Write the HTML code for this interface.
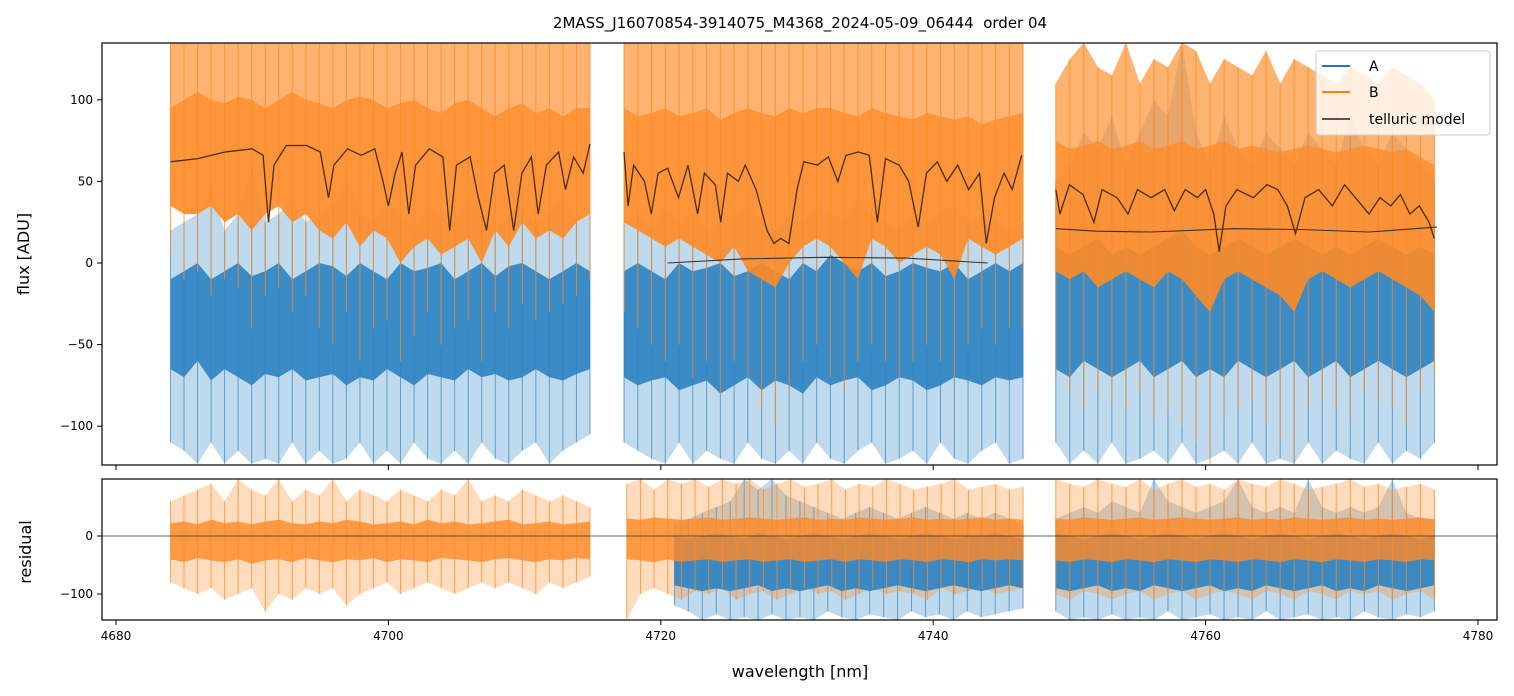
<!DOCTYPE html>
<html><head><meta charset="utf-8"><style>
html,body{margin:0;padding:0;background:#fff;}
svg{display:block;font-family:"DejaVu Sans","Liberation Sans",sans-serif;}
</style></head><body>
<svg id="chart" width="1514" height="696" viewBox="0 0 1514 696">
<defs>
<clipPath id="clipTop"><rect x="102" y="43" width="1395" height="422"/></clipPath>
<clipPath id="clipBot"><rect x="102" y="479" width="1395" height="141"/></clipPath>
</defs>
<rect width="1514" height="696" fill="#fff"/>
<text x="800" y="28" font-size="15" text-anchor="middle" style="white-space:pre">2MASS_J16070854-3914075_M4368_2024-05-09_06444  order 04</text>
<g id="topMarks" clip-path="url(#clipTop)"></g>
<g id="botMarks" clip-path="url(#clipBot)"></g>
<rect x="102" y="43" width="1395" height="422" fill="none" stroke="#000" stroke-width="1.2"/>
<rect x="102" y="479" width="1395" height="141" fill="none" stroke="#000" stroke-width="1.2"/>
<g id="axes"></g>
<text x="800" y="677" font-size="16" text-anchor="middle">wavelength [nm]</text>
<text transform="translate(29,254) rotate(-90)" font-size="16" text-anchor="middle">flux [ADU]</text>
<text transform="translate(31,552) rotate(-90)" font-size="16" text-anchor="middle">residual</text>
<g>
<rect x="1316" y="51" width="174" height="84" rx="3" fill="#fff" fill-opacity="0.8" stroke="#ccc"/>
<line x1="1322" y1="66" x2="1350" y2="66" stroke="#1f77b4" stroke-width="2"/>
<text x="1369" y="71" font-size="14">A</text>
<line x1="1322" y1="92" x2="1350" y2="92" stroke="#ff7f0e" stroke-width="2"/>
<text x="1369" y="97" font-size="14">B</text>
<line x1="1322" y1="119" x2="1350" y2="119" stroke="#555" stroke-width="2"/>
<text x="1369" y="124" font-size="14">telluric model</text>
</g>
</svg>
<script>
// ---- data ----
const segStart = [4684, 4717.3, 4749];
const segEnd = [4714.8, 4746.6, 4776.8];
const xTicks = [4680, 4700, 4720, 4740, 4760, 4780];
const yTicks = [100, 50, 0, -50, -100];
const yTickLabels = ["100", "50", "0", "\u221250", "\u2212100"];
const rTicks = [0, -100];
const rTickLabels = ["0", "\u2212100"];

const blueCoreHi1 = [-10,-5,0,-10,-5,0,-8,-5,0,-10,-5,0,-2,-8,0,-5,-10,0,-5,-3,0,-10,-5,0,-8,-2,0,-5,-10,-5,0,-5];
const blueCoreLo1 = [-65,-70,-60,-72,-65,-70,-75,-68,-70,-65,-72,-70,-68,-75,-70,-72,-65,-70,-75,-68,-70,-72,-65,-70,-68,-72,-70,-65,-70,-72,-68,-65];
const blueHi1 = [20,25,30,45,20,30,60,25,30,40,25,30,35,50,30,25,40,30,20,35,30,25,40,30,20,30,35,25,30,40,25,30];
const blueLo1 = [-110,-115,-123,-110,-123,-115,-123,-120,-123,-110,-123,-115,-123,-120,-110,-123,-115,-123,-110,-120,-123,-115,-123,-110,-120,-123,-115,-110,-123,-115,-110,-105];
const orCoreHi1 = [95,100,105,100,98,102,100,95,100,105,100,98,95,100,102,100,95,98,100,95,92,98,100,95,90,95,98,92,95,90,95,95];
const orCoreLo1 = [35,30,30,35,25,30,20,30,35,25,30,20,15,25,10,20,15,0,10,15,5,10,15,0,20,10,25,15,20,15,25,30];
const orHi1 = [135,135,135,135,135,135,135,135,135,135,135,135,135,135,135,135,135,135,135,135,135,135,135,135,135,135,135,135,135,135,135,135];
const orLo1 = [5,-10,-5,-20,-10,-15,-40,-20,-15,-30,-20,-40,-50,-30,-60,-40,-35,-60,-45,-30,-50,-40,-35,-60,-30,-40,-25,-35,-30,-25,-20,-10];

const blueCoreHi2 = [-5,0,-5,-10,0,-5,-3,0,-8,-5,0,-5,-10,0,-5,5,0,-5,0,-8,-5,0,-3,-5,0,-10,-5,0,-5,0];
const blueCoreLo2 = [-70,-75,-72,-70,-78,-75,-72,-80,-75,-70,-78,-72,-75,-80,-70,-75,-72,-70,-78,-75,-70,-72,-78,-75,-70,-72,-75,-70,-72,-70];
const blueHi2 = [25,30,20,35,25,30,20,25,30,35,25,20,30,25,35,30,25,40,30,25,20,30,25,30,35,25,30,25,20,25];
const blueLo2 = [-110,-115,-120,-123,-110,-123,-115,-120,-123,-110,-120,-123,-115,-123,-110,-120,-123,-115,-110,-123,-120,-115,-123,-110,-120,-123,-115,-110,-123,-120];
const orCoreHi2 = [95,90,92,95,90,92,95,88,92,95,92,90,95,92,95,95,92,90,95,92,90,88,92,90,88,90,85,88,90,92];
const orCoreLo2 = [25,20,15,10,15,10,5,0,10,-5,-10,-15,0,10,15,10,0,-10,15,10,0,5,10,5,-10,15,10,5,10,15];
const orHi2 = [135,135,135,135,135,135,135,135,135,135,135,135,135,135,135,135,135,135,135,135,135,135,135,135,135,135,135,135,135,135];
const orLo2 = [-30,-40,-50,-60,-50,-70,-60,-80,-60,-70,-90,-100,-80,-60,-50,-70,-80,-60,-50,-60,-70,-60,-50,-60,-70,-50,-40,-50,-40,-40];

const blueCoreHi3 = [10,5,10,15,5,10,5,10,15,20,10,5,10,15,10,5,10,15,10,5,10,5,10,15,10,5,10,5];
const blueCoreLo3 = [-65,-70,-60,-65,-70,-65,-60,-70,-65,-60,-70,-65,-70,-60,-65,-70,-65,-60,-70,-65,-60,-70,-65,-60,-65,-70,-65,-60];
const blueHi3 = [50,60,80,70,90,60,80,100,90,135,80,60,90,70,60,80,70,60,80,70,60,90,70,60,80,70,60,50];
const blueLo3 = [-110,-123,-115,-123,-110,-123,-120,-115,-123,-110,-123,-120,-115,-123,-110,-123,-120,-123,-110,-123,-115,-120,-123,-110,-123,-115,-120,-110];
const orCoreHi3 = [75,70,72,75,70,72,75,70,72,75,70,72,75,70,72,70,68,70,72,70,68,70,72,70,68,70,65,60];
const orCoreLo3 = [-5,-10,-5,-15,-10,-5,-10,-15,-5,-10,-20,-30,-10,-5,-10,-15,-20,-30,-10,-5,-10,-15,-10,-5,-10,-15,-20,-30];
const orHi3 = [110,125,135,120,115,135,110,125,120,135,130,110,125,120,115,130,110,125,120,115,110,120,115,110,120,115,110,100];
const orLo3 = [-70,-80,-90,-80,-85,-90,-80,-95,-90,-100,-110,-123,-95,-90,-85,-100,-110,-120,-90,-85,-90,-95,-80,-85,-90,-100,-80,-70];

const tellW1 = [4684,4686,4688,4690,4690.8,4691.2,4691.6,4692.5,4694,4695,4695.6,4696,4697,4698,4699,4699.6,4700,4700.5,4701,4701.5,4702,4703,4704,4704.5,4705,4706,4706.6,4707.2,4707.8,4708.5,4709.2,4709.8,4710.5,4711,4711.6,4712.5,4713,4713.6,4714.3,4714.8];
const tellV1 = [62,64,68,70,66,25,60,72,72,68,40,60,70,66,70,50,35,55,68,30,60,70,65,20,60,65,40,20,55,60,20,55,65,30,60,68,45,65,55,73];
const tellW2 = [4717.3,4717.6,4718,4718.8,4719.3,4719.8,4720.5,4721.3,4722,4722.7,4723.2,4724,4724.4,4724.9,4725.7,4726.2,4727,4727.8,4728.3,4728.8,4729.4,4730,4730.5,4731.5,4732.3,4733,4733.6,4734.5,4735.3,4735.9,4736.5,4737.5,4738.2,4738.9,4739.5,4740.3,4741,4741.8,4742.6,4743.4,4743.9,4744.5,4745.2,4745.8,4746.5];
const tellV2 = [68,35,60,50,30,55,58,40,60,30,55,48,25,55,50,60,45,20,12,15,12,45,62,60,65,50,66,68,66,25,64,60,50,22,55,62,50,60,45,55,12,40,55,45,66];
const tellW3 = [4749,4749.3,4750,4751,4751.8,4752.4,4753.5,4754.3,4755,4756,4757,4757.7,4758.5,4759.4,4760,4760.6,4761,4761.5,4762.3,4763.5,4764.5,4765.3,4766,4766.6,4767.3,4768.3,4769.3,4770.2,4771,4772,4772.8,4773.6,4774.3,4775,4775.7,4776.4,4776.8];
const tellV3 = [45,30,48,42,25,45,40,30,45,40,45,32,45,40,45,30,7,35,45,40,48,45,35,18,40,45,35,48,40,30,40,35,42,30,35,25,15];
const contW2 = [4720.5,4726,4732,4738,4744];
const contV2 = [0,2.5,3.5,3,0];
const contW3 = [4749,4752,4756,4762,4767,4772,4777];
const contV3 = [21,19.5,19,21,20.5,19,22];

const resStart = [4684, 4717.5, 4749, 4721, 4749];
const resEnd = [4714.8, 4746.6, 4776.8, 4746.6, 4776.8];
const resOrHi1 = [60,70,80,90,60,98,80,70,98,60,80,70,98,60,80,70,60,80,70,60,80,70,98,60,70,60,80,70,60,70,60,50];
const resOrLo1 = [-80,-90,-100,-90,-110,-100,-90,-130,-100,-110,-90,-100,-90,-120,-100,-90,-80,-100,-90,-80,-90,-100,-90,-80,-90,-80,-90,-100,-80,-90,-80,-70];
const resOrCoreHi1 = [22,25,20,28,22,25,20,25,28,22,20,25,22,28,25,20,22,25,20,28,22,25,20,22,25,28,20,22,25,20,22,25];
const resOrCoreLo1 = [-40,-45,-38,-42,-45,-40,-48,-42,-40,-45,-38,-42,-45,-40,-42,-38,-45,-40,-42,-45,-38,-40,-42,-45,-40,-38,-42,-45,-40,-42,-38,-40];
const resOrHi2 = [90,98,80,98,90,98,85,98,90,98,80,90,98,85,90,98,80,90,85,98,90,80,85,90,98,80,85,90,80,85];
const resOrLo2 = [-145,-100,-90,-100,-110,-95,-100,-90,-110,-100,-95,-110,-100,-90,-100,-95,-110,-100,-90,-100,-95,-100,-110,-90,-100,-95,-90,-100,-95,-90];
const resOrCoreHi2 = [30,28,32,30,28,30,32,28,30,32,30,28,30,32,28,30,28,32,30,28,30,32,28,30,28,30,32,28,30,28];
const resOrCoreLo2 = [-40,-42,-45,-40,-45,-42,-40,-45,-42,-40,-45,-42,-40,-45,-42,-40,-45,-40,-42,-45,-40,-42,-45,-40,-42,-45,-40,-42,-40,-42];
const resOrHi3 = [98,90,85,98,90,85,98,80,90,98,85,90,80,98,90,85,98,90,80,85,90,98,85,90,80,85,90,80];
const resOrLo3 = [-100,-110,-95,-100,-110,-100,-95,-110,-100,-95,-110,-100,-95,-100,-110,-95,-100,-110,-95,-100,-110,-95,-100,-95,-110,-100,-95,-110];
const resOrCoreHi3 = [30,28,32,30,28,30,32,28,30,32,30,28,30,32,28,30,28,32,30,28,30,32,28,30,28,30,32,28];
const resOrCoreLo3 = [-42,-45,-40,-42,-45,-40,-42,-45,-40,-42,-45,-40,-42,-45,-40,-42,-45,-40,-42,-45,-40,-42,-45,-40,-42,-45,-40,-42];
const resBlHi2 = [20,30,40,50,60,98,80,98,70,60,50,40,30,40,50,40,30,40,50,40,30,40,30,40,30,20];
const resBlLo2 = [-120,-130,-145,-135,-145,-140,-145,-135,-145,-140,-145,-130,-140,-145,-135,-140,-145,-130,-140,-135,-145,-130,-140,-135,-130,-125];
const resBlCoreHi2 = [0,-5,0,5,0,-5,5,0,-5,0,5,0,-5,0,5,0,-5,0,5,0,-5,0,0,5,0,-5];
const resBlCoreLo2 = [-85,-90,-95,-90,-95,-90,-85,-95,-90,-95,-90,-85,-95,-90,-95,-90,-85,-90,-95,-90,-85,-90,-95,-90,-85,-90];
const resBlHi3 = [30,40,50,40,60,50,40,98,60,50,40,50,60,98,50,40,50,40,98,50,40,50,40,50,98,40,30,30];
const resBlLo3 = [-130,-145,-140,-145,-135,-145,-140,-145,-130,-145,-140,-135,-145,-140,-145,-130,-145,-140,-135,-145,-140,-145,-130,-140,-145,-135,-140,-130];
const resBlCoreHi3 = [5,0,-5,0,5,0,-5,0,5,0,-5,0,5,0,-5,0,5,0,-5,0,5,0,-5,0,5,0,-5,0];
const resBlCoreLo3 = [-90,-95,-90,-85,-95,-90,-95,-85,-90,-95,-90,-85,-95,-90,-95,-85,-90,-95,-90,-85,-95,-90,-95,-85,-90,-95,-90,-85];

// ---- scales ----
const NS = "http://www.w3.org/2000/svg";
function X(w){ return 116 + (w - 4680) * 13.62; }
function Y(v){ return 263 - v * 1.632; }
function R(v){ return 536 - v * 0.58; }
const topG = document.getElementById('topMarks');
const botG = document.getElementById('botMarks');
const axesG = document.getElementById('axes');

function binX(s, e, n, i){ return s + (e - s) * i / (n - 1); }
function fillBand(g, s, e, hi, lo, color, op, yf, name){
  const n = hi.length;
  let d = "";
  for (let i = 0; i < n; i++) d += (i ? "L" : "M") + X(binX(s, e, n, i)).toFixed(1) + "," + yf(hi[i]).toFixed(1);
  for (let i = n - 1; i >= 0; i--) d += "L" + X(binX(s, e, n, i)).toFixed(1) + "," + yf(lo[i]).toFixed(1);
  const p = document.createElementNS(NS, "path");
  p.setAttribute("d", d + "Z");
  p.setAttribute("fill", color);
  p.setAttribute("fill-opacity", op);
  
  
  g.appendChild(p);
}
function spikes(g, s, e, hi, lo, color, op, yf, name){
  const n = hi.length;
  for (let i = 0; i < n; i++) {
    const l = document.createElementNS(NS, "line");
    const x = X(binX(s, e, n, i));
    l.setAttribute("x1", x); l.setAttribute("x2", x);
    l.setAttribute("y1", yf(hi[i])); l.setAttribute("y2", yf(lo[i]));
    l.setAttribute("stroke", color); l.setAttribute("stroke-width", "1");
    l.setAttribute("stroke-opacity", op);
    
    
    g.appendChild(l);
  }
}
function line(g, ws, vs, color, width, yf, name){
  let d = "";
  for (let i = 0; i < ws.length; i++) d += (i ? "L" : "M") + X(ws[i]).toFixed(1) + "," + yf(vs[i]).toFixed(1);
  const p = document.createElementNS(NS, "path");
  p.setAttribute("d", d);
  p.setAttribute("fill", "none");
  p.setAttribute("stroke", color);
  p.setAttribute("stroke-width", width);
  
  
  g.appendChild(p);
}

const BL = "#2f84c2", OR = "#ff8a25";
const bHi = [blueHi1, blueHi2, blueHi3], bLo = [blueLo1, blueLo2, blueLo3];
const bCH = [blueCoreHi1, blueCoreHi2, blueCoreHi3], bCL = [blueCoreLo1, blueCoreLo2, blueCoreLo3];
const oHi = [orHi1, orHi2, orHi3], oLo = [orLo1, orLo2, orLo3];
const oCH = [orCoreHi1, orCoreHi2, orCoreHi3], oCL = [orCoreLo1, orCoreLo2, orCoreLo3];
for (let k = 0; k < 3; k++) {
  fillBand(topG, segStart[k], segEnd[k], bHi[k], bLo[k], BL, 0.3, Y, 'series-a-extent-seg' + (k+1));
  spikes(topG, segStart[k], segEnd[k], bHi[k], bLo[k], BL, 0.7, Y, 'series-a-spike');
}
for (let k = 0; k < 3; k++) {
  fillBand(topG, segStart[k], segEnd[k], oHi[k], oCH[k], OR, 0.65, Y, 'series-b-upper-extent-seg' + (k+1));
}
for (let k = 0; k < 3; k++) {
  fillBand(topG, segStart[k], segEnd[k], bCH[k], bCL[k], BL, 0.92, Y, 'series-a-core-seg' + (k+1));
}
for (let k = 0; k < 3; k++) {
  fillBand(topG, segStart[k], segEnd[k], oCH[k], oCL[k], OR, 0.9, Y, 'series-b-core-seg' + (k+1));
  spikes(topG, segStart[k], segEnd[k], oHi[k], oLo[k], OR, 0.8, Y, 'series-b-spike');
}
line(topG, tellW1, tellV1, "#4a2c12", 1.3, Y, 'telluric-model-seg1');
line(topG, tellW2, tellV2, "#4a2c12", 1.3, Y, 'telluric-model-seg2');
line(topG, tellW3, tellV3, "#4a2c12", 1.3, Y, 'telluric-model-seg3');
line(topG, contW2, contV2, "#333", 1.1, Y, 'continuum-seg2');
line(topG, contW3, contV3, "#333", 1.1, Y, 'continuum-seg3');

const rOH = [resOrHi1, resOrHi2, resOrHi3], rOL = [resOrLo1, resOrLo2, resOrLo3];
const rOCH = [resOrCoreHi1, resOrCoreHi2, resOrCoreHi3], rOCL = [resOrCoreLo1, resOrCoreLo2, resOrCoreLo3];
fillBand(botG, resStart[3], resEnd[3], resBlHi2, resBlLo2, BL, 0.3, R, 'residual-a-extent-seg2');
spikes(botG, resStart[3], resEnd[3], resBlHi2, resBlLo2, BL, 0.7, R, 'residual-a-spike');
fillBand(botG, resStart[4], resEnd[4], resBlHi3, resBlLo3, BL, 0.3, R, 'residual-a-extent-seg3');
spikes(botG, resStart[4], resEnd[4], resBlHi3, resBlLo3, BL, 0.7, R, 'residual-a-spike');
for (let k = 0; k < 3; k++) {
  fillBand(botG, resStart[k], resEnd[k], rOH[k], rOL[k], OR, 0.3, R, 'residual-b-extent-seg' + (k+1));
}
fillBand(botG, resStart[3], resEnd[3], resBlCoreHi2, resBlCoreLo2, BL, 0.92, R, 'residual-a-core-seg2');
fillBand(botG, resStart[4], resEnd[4], resBlCoreHi3, resBlCoreLo3, BL, 0.92, R, 'residual-a-core-seg3');
for (let k = 0; k < 3; k++) {
  fillBand(botG, resStart[k], resEnd[k], rOCH[k], rOCL[k], OR, 0.8, R, 'residual-b-core-seg' + (k+1));
  spikes(botG, resStart[k], resEnd[k], rOH[k], rOL[k], OR, 0.75, R, 'residual-b-spike');
}
const zl = document.createElementNS(NS, "line");
zl.setAttribute("x1", 102); zl.setAttribute("x2", 1497);
zl.setAttribute("y1", R(0)); zl.setAttribute("y2", R(0));
zl.setAttribute("stroke", "#333"); zl.setAttribute("stroke-width", "0.7");


botG.appendChild(zl);

function addLine(x1,y1,x2,y2,name){
  const l = document.createElementNS(NS, "line");
  l.setAttribute("x1",x1); l.setAttribute("y1",y1); l.setAttribute("x2",x2); l.setAttribute("y2",y2);
  l.setAttribute("stroke","#000"); l.setAttribute("stroke-width","1");
  
  
  axesG.appendChild(l);
}
function addText(x,y,s,anchor,name){
  const t = document.createElementNS(NS, "text");
  t.setAttribute("x",x); t.setAttribute("y",y); t.setAttribute("font-size","12");
  t.setAttribute("text-anchor",anchor);
  t.textContent = s;
  
  
  axesG.appendChild(t);
}
xTicks.forEach(w => {
  addLine(X(w),465,X(w),470,'x-tick-top');
  addLine(X(w),620,X(w),625,'x-tick');
  addText(X(w),640,String(w),"middle",'x-tick-label');
});
yTicks.forEach((v,i) => {
  addLine(97,Y(v),102,Y(v),'y-tick');
  addText(93,Y(v)+4,yTickLabels[i],"end",'y-tick-label');
});
rTicks.forEach((v,i) => {
  addLine(97,R(v),102,R(v),'residual-tick');
  addText(93,R(v)+4,rTickLabels[i],"end",'residual-tick-label');
});
</script>
</body></html>
